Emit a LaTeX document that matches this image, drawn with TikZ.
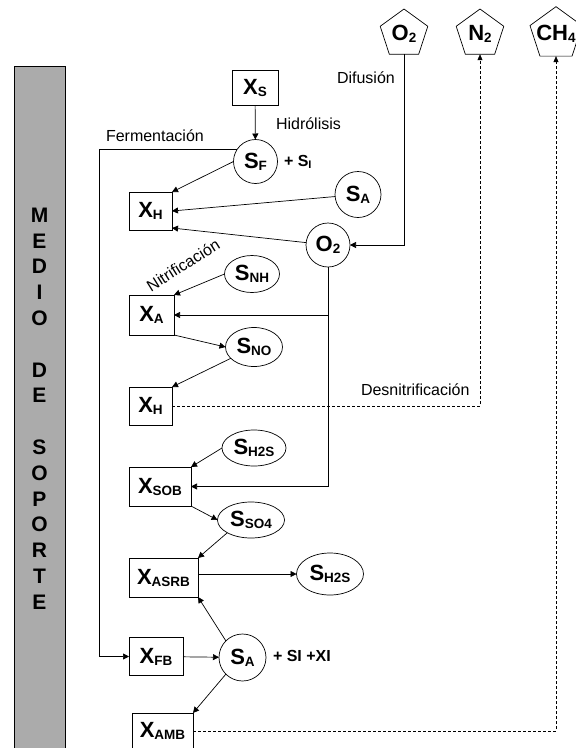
\documentclass[tikz,border=0pt]{standalone}
\usepackage{fontspec}
\setmainfont{Liberation Sans}
\usetikzlibrary{shapes.geometric,arrows.meta,calc}
\newcommand{\lbl}[2]{#1\raisebox{-2pt}{\fontsize{13.5}{14}\selectfont #2}}
\newcommand{\smlbl}[2]{#1\raisebox{-1.5pt}{\fontsize{11}{11}\selectfont #2}}
\begin{document}
\begin{tikzpicture}[x=1pt,y=-1pt,
  every node/.style={inner sep=0pt, outer sep=0pt},
  ln/.style={line width=0.7pt},
  arr/.style={line width=0.7pt, -{Triangle[length=6pt,width=6pt]}},
  dsh/.style={line width=0.6pt, dash pattern=on 3pt off 2pt, -{Triangle[length=6pt,width=5pt]}},
  bfont/.style={font=\fontsize{22}{24}\selectfont\bfseries},
  bx/.style={draw, line width=0.7pt, rectangle, fill=white, bfont},
  cir/.style={draw, line width=0.7pt, circle, fill=white, bfont, minimum size=#1},
  ell/.style={draw, line width=0.7pt, ellipse, fill=white, bfont},
  pent/.style={draw, line width=0.7pt, regular polygon, regular polygon sides=5, minimum size=50pt, inner sep=-4pt, bfont},
  txt/.style={font=\fontsize{16}{19}\selectfont},
  bartxt/.style={font=\fontsize{21}{23}\selectfont\bfseries},
]
\useasboundingbox (0,0) rectangle (576,748);

% support medium bar
\draw[line width=0.7pt, fill=black!33] (14,66) rectangle (65,760);
\foreach \l [count=\i from 0] in {M,E,D,I,O,{},D,E,{},S,O,P,O,R,T,E}
  \node[bartxt] (bar\i) at (39.5,{215+25.8*\i}) {\l};

% gas pentagons
\node[pent] (O2p) at (404,34) {\raisebox{2pt}{\lbl{O}{2}}};
\node[pent] (N2p) at (480,34) {\raisebox{2pt}{\lbl{N}{2}}};
\node[pent] (CH4p) at (556,34) {\raisebox{2pt}{\lbl{CH}{4}}};

% nodes
\node[bx, minimum width=46pt, minimum height=35pt] (XS) at (255,87.5) {\lbl{X}{S}};
\node[cir=44pt] (SF) at (255.5,161.5) {\lbl{S}{F}};
\node[bx, minimum width=43pt, minimum height=38pt] (XH1) at (150.5,211) {\lbl{X}{H}};
\node[cir=46pt] (SA1) at (358,194.5) {\lbl{S}{A}};
\node[cir=44pt] (O2c) at (328,245) {\lbl{O}{2}};
\node[ell, minimum width=55pt, minimum height=37pt] (SNH) at (252,274) {\lbl{S}{NH}};
\node[bx, minimum width=45pt, minimum height=40pt] (XA) at (151.5,315) {\lbl{X}{A}};
\node[ell, minimum width=57pt, minimum height=39pt] (SNO) at (254,347) {\lbl{S}{NO}};
\node[bx, minimum width=43pt, minimum height=38pt] (XH2) at (150.5,406) {\lbl{X}{H}};
\node[ell, minimum width=64pt, minimum height=36pt] (SH2Sa) at (254,448) {\lbl{S}{H2S}};
\node[bx, minimum width=62pt, minimum height=39pt] (XSOB) at (160,486.5) {\lbl{X}{SOB}};
\node[ell, minimum width=67pt, minimum height=36pt] (SSO4) at (251,520) {\lbl{S}{SO4}};
\node[bx, minimum width=69pt, minimum height=39pt] (XASRB) at (163.5,577.5) {\lbl{X}{ASRB}};
\node[ell, minimum width=67pt, minimum height=42pt] (SH2Sb) at (330,574) {\lbl{S}{H2S}};
\node[bx, minimum width=54pt, minimum height=38pt] (XFB) at (156,656.5) {\lbl{X}{FB}};
\node[cir=47pt] (SA2) at (242.5,657.5) {\lbl{S}{A}};
\node[bx, minimum width=61pt, minimum height=36pt] (XAMB) at (162.5,731) {\lbl{X}{AMB}};

% texts
\node[txt, anchor=base west] (tferm) at (106,141.5) {Fermentación};
\node[txt, anchor=base west] (thidr) at (276,129.5) {Hidrólisis};
\node[txt, anchor=base west] (tdif) at (337,83.5) {Difusión};
\node[txt, anchor=base west] (tdes) at (361,395) {Desnitrificación};
\node[txt, anchor=base west, rotate=32] (tnit) at (151,292) {Nitrificación};
\node[font=\fontsize{16}{19}\selectfont\bfseries, anchor=base west] (tsi) at (284,166.5) {+ \smlbl{S}{I}};
\node[font=\fontsize{16}{19}\selectfont\bfseries, anchor=base west] (tsixi) at (273,661.5) {+ SI +XI};

% connectors
\draw[arr] (XS) -- (SF);
\draw[arr] (SF.west) -- (XH1.north east);
\draw[arr] (SA1) -- (XH1.east);
\draw[arr] (O2c) -- ([yshift=2pt]XH1.south east);
\draw[arr] (O2p.south) |- (O2c.east);
\coordinate (brA) at (O2c.south |- XA.east);
\draw[arr] (O2c.south) |- (XSOB.east);
\draw[arr] (brA) -- (XA.east);
\draw[arr] (SNH.west) -- (XA.north east);
\draw[arr] (XA.south east) -- (SNO.west);
\draw[arr] (SNO) -- (XH2.north east);
\draw[dsh] (XH2.east) -| (N2p.south);
\draw[arr] (SH2Sa.west) -- (XSOB.north east);
\draw[arr] (XSOB.south east) -- (SSO4.west);
\draw[arr] (SSO4.south west) -- (XASRB.north east);
\draw[arr] (XASRB.east |- SH2Sb.west) -- (SH2Sb.west);
\draw[arr] (SA2.north west) -- (XASRB.south east);
\draw[arr] (XFB) -- (SA2);
\draw[arr] (SA2.south west) -- (XAMB.north east);
\draw[dsh] (XAMB.east) -| (CH4p.south);
\path (XFB.west) ++(-30,0) coordinate (fc);
\draw[arr] (SF.148) -| (fc) -- (XFB.west);
\end{tikzpicture}
\end{document}
